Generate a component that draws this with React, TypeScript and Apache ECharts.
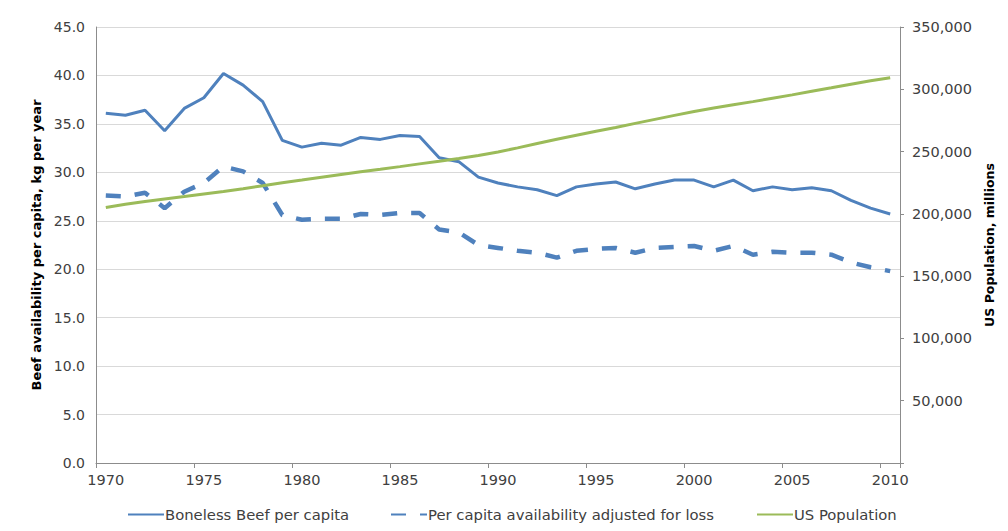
import React, { useEffect, useRef } from "react";
import * as echarts from "echarts";

const years = [
  "1970", "1971", "1972", "1973", "1974", "1975", "1976", "1977", "1978", "1979",
  "1980", "1981", "1982", "1983", "1984", "1985", "1986", "1987", "1988", "1989",
  "1990", "1991", "1992", "1993", "1994", "1995", "1996", "1997", "1998", "1999",
  "2000", "2001", "2002", "2003", "2004", "2005", "2006", "2007", "2008", "2009",
  "2010",
];

const bonelessBeef = [
  36.1, 35.9, 36.4, 34.3, 36.6, 37.7, 40.2, 39.0, 37.3, 33.3,
  32.6, 33.0, 32.8, 33.6, 33.4, 33.8, 33.7, 31.5, 31.1, 29.5,
  28.9, 28.5, 28.2, 27.6, 28.5, 28.8, 29.0, 28.3, 28.8, 29.2,
  29.2, 28.5, 29.2, 28.1, 28.5, 28.2, 28.4, 28.1, 27.1, 26.3,
  25.7,
];

const lossAdjusted = [
  27.6, 27.5, 27.9, 26.3, 28.0, 28.9, 30.6, 30.1, 28.9, 25.6,
  25.1, 25.2, 25.2, 25.7, 25.6, 25.8, 25.8, 24.1, 23.8, 22.5,
  22.2, 21.9, 21.7, 21.2, 21.9, 22.1, 22.2, 21.7, 22.2, 22.3,
  22.4, 21.9, 22.4, 21.5, 21.8, 21.7, 21.7, 21.5, 20.7, 20.2,
  19.8,
];

const usPopulation = [
  205052, 207661, 209896, 211909, 213854, 215973, 218035, 220239, 222585, 225055,
  227225, 229466, 231664, 233792, 235825, 237924, 240133, 242289, 244499, 246819,
  249623, 252981, 256514, 259919, 263126, 266278, 269394, 272647, 275854, 279040,
  282162, 284969, 287625, 290108, 292805, 295517, 298380, 301231, 304094, 306772,
  309326,
];

const seriesNames = [
  "Boneless Beef per capita",
  "Per capita availability adjusted for loss",
  "US Population",
];

const leftAxisName = "Beef availability per capita, kg per year";
const rightAxisName = "US Population, millions";

const FONT = "DejaVu Sans";
const TEXT = "#404040";
const BLUE = "#4F81BD";
const GREEN = "#9BBB59";
const AXIS = "#8c8c8c";

export default function App() {
  const ref = useRef<HTMLDivElement>(null);

  useEffect(() => {
    if (!ref.current) return;
    const chart = echarts.init(ref.current, null, { renderer: "svg" });
    const legendBase = {
      orient: "horizontal",
      top: 507,
      itemWidth: 36,
      itemHeight: 16,
      itemGap: 0,
      itemStyle: { opacity: 0 },
      textStyle: { fontFamily: FONT, fontSize: 14.8, color: TEXT, padding: [0, 0, 0, -4] },
      padding: 0,
    };
    chart.setOption({
      animation: false,
      backgroundColor: "#ffffff",
      textStyle: { fontFamily: FONT },
      grid: { left: 96, right: 108, top: 27, bottom: 68, containLabel: false },
      legend: [
        { ...legendBase, left: 127, data: [seriesNames[0]] },
        { ...legendBase, left: 390, data: [seriesNames[1]] },
        { ...legendBase, left: 756, data: [seriesNames[2]] },
      ],
      xAxis: {
        type: "category",
        data: years,
        boundaryGap: true,
        axisLine: { show: true, lineStyle: { color: AXIS, width: 1 } },
        axisTick: { show: true, interval: 4, length: 5, inside: false, lineStyle: { color: AXIS } },
        axisLabel: { interval: 4, margin: 9, color: TEXT, fontFamily: FONT, fontSize: 14.5 },
        splitLine: { show: false },
      },
      yAxis: [
        {
          type: "value",
          min: 0,
          max: 45,
          interval: 5,
          position: "left",
          name: leftAxisName,
          nameLocation: "middle",
          nameGap: 48,
          nameTextStyle: { fontFamily: FONT, fontSize: 13, fontWeight: "bold", color: "#000" },
          axisLine: { show: true, lineStyle: { color: AXIS, width: 1 } },
          axisTick: { show: false },
          axisLabel: {
            margin: 11,
            color: TEXT,
            fontFamily: FONT,
            fontSize: 14,
            formatter: (v: number) => v.toFixed(1),
          },
          splitLine: { show: true, lineStyle: { color: "#d9d9d9", width: 1 } },
        },
        {
          type: "value",
          min: 0,
          max: 350000,
          interval: 50000,
          position: "right",
          name: rightAxisName,
          nameLocation: "middle",
          nameGap: 76,
          nameTextStyle: { fontFamily: FONT, fontSize: 12.5, fontWeight: "bold", color: "#000" },
          axisLine: { show: true, lineStyle: { color: AXIS, width: 1 } },
          axisTick: { show: true, length: 4, inside: false, lineStyle: { color: AXIS } },
          axisLabel: {
            margin: 12,
            color: TEXT,
            fontFamily: FONT,
            fontSize: 14.5,
            formatter: (v: number) => (v === 0 ? "" : v.toLocaleString("en-US")),
          },
          splitLine: { show: false },
        },
      ],
      series: [
        {
          name: seriesNames[0],
          type: "line",
          yAxisIndex: 0,
          data: bonelessBeef,
          symbol: "none",
          showSymbol: false,
          itemStyle: { color: BLUE },
          lineStyle: { color: BLUE, width: 3 },
        },
        {
          name: seriesNames[1],
          type: "line",
          yAxisIndex: 0,
          data: lossAdjusted,
          symbol: "none",
          showSymbol: false,
          itemStyle: { color: BLUE },
          lineStyle: { color: BLUE, width: 4.5, type: [15, 14], cap: "butt" },
        },
        {
          name: seriesNames[2],
          type: "line",
          yAxisIndex: 1,
          data: usPopulation,
          symbol: "none",
          showSymbol: false,
          itemStyle: { color: GREEN },
          lineStyle: { color: GREEN, width: 3 },
        },
      ],
    });
    return () => chart.dispose();
  }, []);

  return (
    <div
      ref={ref}
      style={{ position: "fixed", left: 0, top: 0, width: 1008, height: 531 }}
    />
  );
}
